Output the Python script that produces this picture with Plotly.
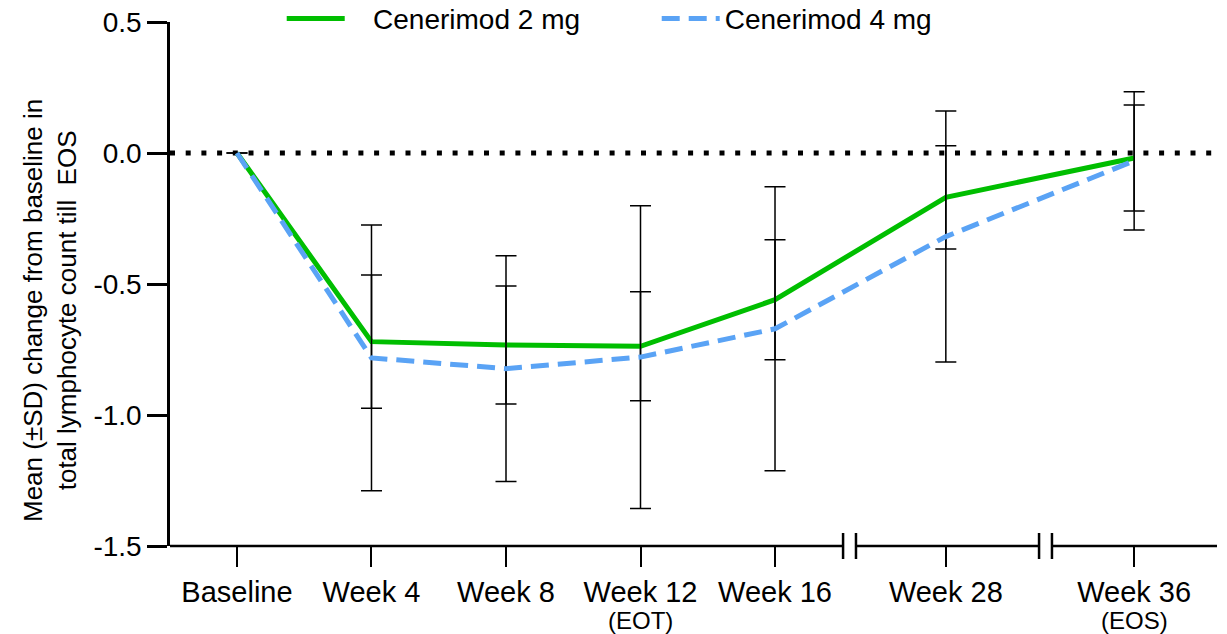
import plotly.graph_objects as go

# Visits and their optional second-line annotations
categories = ["Baseline", "Week 4", "Week 8", "Week 12", "Week 16", "Week 28", "Week 36"]
sublabels = ["", "", "", "(EOT)", "", "", "(EOS)"]

# Mean change from baseline (x10^9/L) and standard deviation per visit
mean_2mg = [0.0, -0.720, -0.733, -0.738, -0.560, -0.169, -0.019]
sd_2mg = [None, 0.254, 0.225, 0.208, 0.229, 0.197, 0.202]
mean_4mg = [0.0, -0.782, -0.823, -0.779, -0.671, -0.319, -0.030]
sd_4mg = [None, 0.507, 0.431, 0.578, 0.542, 0.479, 0.264]

y_ticks = [0.5, 0.0, -0.5, -1.0, -1.5]

# Horizontal layout of the visits: evenly spaced up to Week 16, then the
# broken axis segments for Week 28 and Week 36.
x_pos = [0, 1, 2, 3, 4, 5.27, 6.67]
x_range = [-0.498, 7.286]
breaks = [4.554, 6.011]
break_half_gap = 0.048

FONT = "Liberation Sans, Arial, sans-serif"
GREEN = "#00BE00"
BLUE = "#5AA3F5"
NBSP = "\u00a0"

fig = go.Figure()

fig.add_trace(go.Scatter(
    x=x_pos, y=mean_2mg, mode="lines", name=NBSP * 3 + "Cenerimod 2 mg",
    line=dict(color=GREEN, width=5),
    error_y=dict(type="data", array=sd_2mg, symmetric=True,
                 color="black", thickness=1.5, width=10.5),
))
fig.add_trace(go.Scatter(
    x=x_pos, y=mean_4mg, mode="lines", name="Cenerimod 4 mg",
    line=dict(color=BLUE, width=5, dash="18px,9px"),
    error_y=dict(type="data", array=sd_4mg, symmetric=True,
                 color="black", thickness=1.5, width=10.5),
))

shapes = []
# dotted reference line at zero change
shapes.append(dict(type="line", xref="paper", yref="y", x0=0, x1=1, y0=0, y1=0,
                   line=dict(color="black", width=5, dash="5px,10.7px"), layer="below"))

# broken x axis: three segments with double tick marks at each break
seg_edges = [x_range[0]]
for b in breaks:
    seg_edges += [b - break_half_gap, b + break_half_gap]
seg_edges.append(x_range[1])
for i in range(0, len(seg_edges), 2):
    shapes.append(dict(type="line", xref="x", yref="paper",
                       x0=seg_edges[i], x1=seg_edges[i + 1], y0=0, y1=0,
                       line=dict(color="black", width=2.5)))
for e in seg_edges[1:-1]:
    shapes.append(dict(type="line", xref="x", yref="paper", ysizemode="pixel",
                       yanchor=0, x0=e, x1=e, y0=-13, y1=13,
                       line=dict(color="black", width=2.5)))

annotations = [dict(
    text="Mean (±SD) change from baseline in<br>total lymphocyte count till  EOS",
    xref="paper", yref="paper", x=0, y=0.5, xanchor="center", yanchor="middle",
    xshift=-120, yshift=-27, textangle=-90, showarrow=False,
    font=dict(size=26),
)]
# second line under selected visit labels
for xp, s in zip(x_pos, sublabels):
    if s:
        annotations.append(dict(text=s, xref="x", yref="paper", x=xp, y=0,
                                xanchor="center", yanchor="middle", yshift=-74,
                                showarrow=False, font=dict(size=24)))

fig.update_layout(
    width=1227, height=634,
    margin=dict(l=170, r=10, t=22, b=88, autoexpand=False),
    paper_bgcolor="white", plot_bgcolor="white",
    font=dict(family=FONT, size=28, color="black"),
    showlegend=True,
    legend=dict(orientation="h", x=0.1067, xanchor="left", y=1.006, yanchor="middle",
                font=dict(size=28), itemwidth=58, entrywidth=302,
                entrywidthmode="pixels", bgcolor="rgba(0,0,0,0)"),
    xaxis=dict(range=x_range, tickmode="array", tickvals=x_pos, ticktext=categories,
               showline=False, showgrid=False, zeroline=False, automargin=False,
               ticks="outside", ticklen=20, tickwidth=2, tickcolor="black",
               tickfont=dict(size=29)),
    yaxis=dict(range=[-1.5, 0.5], tickmode="array", tickvals=y_ticks,
               ticktext=[f"{v:.1f}" for v in y_ticks], automargin=False,
               showline=True, linecolor="black", linewidth=2.5,
               showgrid=False, zeroline=False,
               ticks="outside", ticklen=20, tickwidth=2.5, tickcolor="black",
               tickfont=dict(size=28)),
    shapes=shapes,
    annotations=annotations,
)

fig.write_html("out.html")
